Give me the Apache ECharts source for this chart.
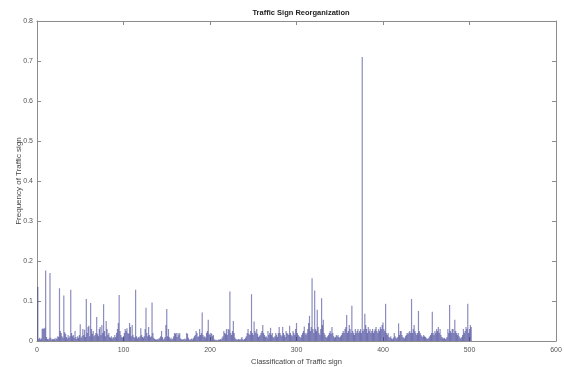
<!DOCTYPE html>
<html>
<head>
<meta charset="utf-8">
<script src="https://cdn.jsdelivr.net/npm/echarts@6/dist/echarts.min.js"></script>
<style>
html,body{margin:0;padding:0;background:#fff;}
#chart{width:564px;height:367px;}
</style>
</head>
<body>
<div id="chart"></div>
<script>
// Chart text
const titleText = "Traffic Sign Reorganization";
const xAxisName = "Classification of Traffic sign";
const yAxisName = "Frequency of Traffic sign";

// Axis ranges / ticks
const xMin = 0, xMax = 600, xStep = 100;
const yMin = 0, yMax = 0.8, yStep = 0.1;

// Class number of the first value
const firstClass = 1;

// Frequency of each traffic sign class (classes 1..502)
const frequency = [
  0.135,0.005,0.008,0.004,0.006,0.030,0.032,0.030,0.033,0.176,
  0.010,0.005,0.004,0.006,0.170,0.008,0.003,0.005,0.004,0.006,
  0.004,0.008,0.005,0.012,0.010,0.132,0.025,0.020,0.012,0.008,
  0.114,0.022,0.018,0.010,0.006,0.015,0.008,0.012,0.128,0.020,
  0.012,0.015,0.008,0.025,0.010,0.005,0.012,0.008,0.015,0.042,
  0.008,0.012,0.030,0.015,0.028,0.010,0.105,0.020,0.035,0.038,
  0.012,0.095,0.030,0.018,0.025,0.012,0.015,0.020,0.060,0.018,
  0.012,0.030,0.035,0.015,0.040,0.020,0.092,0.025,0.012,0.050,
  0.030,0.015,0.020,0.010,0.008,0.012,0.006,0.010,0.008,0.015,
  0.010,0.020,0.030,0.045,0.115,0.025,0.015,0.010,0.008,0.012,
  0.020,0.030,0.025,0.032,0.020,0.018,0.045,0.035,0.012,0.040,
  0.015,0.010,0.008,0.128,0.012,0.006,0.010,0.008,0.012,0.032,
  0.015,0.010,0.008,0.012,0.030,0.083,0.020,0.012,0.035,0.015,
  0.010,0.012,0.096,0.020,0.008,0.005,0.004,0.003,0.005,0.004,
  0.006,0.008,0.012,0.025,0.010,0.004,0.006,0.010,0.040,0.080,
  0.012,0.030,0.010,0.005,0.008,0.004,0.006,0.012,0.020,0.018,
  0.020,0.010,0.020,0.015,0.020,0.006,0.004,0.003,0.005,0.004,
  0.006,0.004,0.020,0.018,0.008,0.004,0.003,0.005,0.006,0.004,
  0.008,0.012,0.015,0.025,0.020,0.010,0.012,0.030,0.015,0.020,
  0.071,0.015,0.010,0.012,0.008,0.020,0.025,0.053,0.018,0.015,
  0.020,0.018,0.012,0.015,0.004,0.003,0.002,0.003,0.002,0.004,
  0.003,0.005,0.004,0.008,0.012,0.025,0.020,0.018,0.030,0.015,
  0.030,0.028,0.124,0.020,0.015,0.025,0.050,0.020,0.008,0.005,
  0.004,0.003,0.005,0.004,0.003,0.006,0.010,0.004,0.003,0.005,
  0.008,0.012,0.020,0.030,0.018,0.015,0.025,0.117,0.020,0.015,
  0.049,0.025,0.020,0.030,0.018,0.010,0.012,0.015,0.020,0.025,
  0.040,0.020,0.015,0.010,0.012,0.008,0.025,0.015,0.020,0.033,
  0.015,0.020,0.010,0.008,0.012,0.020,0.015,0.010,0.020,0.035,
  0.020,0.015,0.012,0.035,0.020,0.015,0.010,0.025,0.020,0.018,
  0.015,0.038,0.020,0.015,0.012,0.025,0.020,0.015,0.030,0.045,
  0.020,0.015,0.012,0.010,0.008,0.015,0.020,0.025,0.036,0.020,
  0.015,0.020,0.030,0.045,0.063,0.025,0.035,0.157,0.030,0.020,
  0.126,0.030,0.025,0.078,0.035,0.020,0.015,0.030,0.107,0.040,
  0.053,0.020,0.015,0.010,0.008,0.012,0.015,0.020,0.025,0.018,
  0.035,0.020,0.012,0.008,0.010,0.015,0.012,0.015,0.010,0.008,
  0.012,0.015,0.020,0.025,0.020,0.030,0.035,0.065,0.020,0.025,
  0.040,0.030,0.020,0.088,0.025,0.020,0.015,0.030,0.020,0.025,
  0.030,0.020,0.025,0.030,0.020,0.710,0.025,0.030,0.068,0.040,
  0.030,0.020,0.035,0.025,0.030,0.020,0.025,0.030,0.020,0.025,
  0.030,0.035,0.025,0.020,0.030,0.025,0.035,0.030,0.040,0.046,
  0.030,0.025,0.093,0.020,0.015,0.020,0.010,0.008,0.012,0.006,
  0.004,0.008,0.020,0.012,0.008,0.006,0.010,0.044,0.015,0.025,
  0.025,0.015,0.010,0.008,0.006,0.012,0.015,0.020,0.018,0.022,
  0.025,0.020,0.105,0.020,0.030,0.040,0.025,0.020,0.015,0.020,
  0.075,0.025,0.020,0.015,0.012,0.010,0.015,0.012,0.010,0.008,
  0.005,0.006,0.008,0.012,0.015,0.020,0.073,0.020,0.015,0.025,
  0.020,0.030,0.025,0.035,0.020,0.030,0.015,0.010,0.008,0.006,
  0.008,0.005,0.006,0.010,0.030,0.020,0.090,0.025,0.020,0.030,
  0.030,0.020,0.053,0.025,0.020,0.015,0.020,0.012,0.008,0.006,
  0.010,0.015,0.030,0.020,0.025,0.035,0.030,0.093,0.020,0.030,
  0.040,0.035
];

const seriesData = frequency.map((v, i) => [firstClass + i, v]);

const FONT = "'Liberation Sans', Arial, sans-serif";
const axisGray = "#8c8c8c";
const labelGray = "#555";

const chart = echarts.init(document.getElementById('chart'), null, {renderer: 'canvas'});

const tickStyle = {show: true, inside: true, length: 4, lineStyle: {color: axisGray, width: 1}};
const lineStyle = {show: true, onZero: false, lineStyle: {color: axisGray, width: 1}};

chart.setOption({
  animation: false,
  backgroundColor: '#ffffff',
  title: {
    text: titleText,
    left: 296, top: 4, textAlign: 'center',
    textStyle: {fontFamily: FONT, fontSize: 7.5, fontWeight: 'bold', color: '#222'}
  },
  grid: {left: 37, right: 8, top: 21, bottom: 26, containLabel: false, outerBoundsMode: 'none'},
  xAxis: [
    {
      type: 'value', position: 'bottom', min: xMin, max: xMax, interval: xStep,
      name: xAxisName, nameLocation: 'middle', nameGap: 17, nameMoveOverlap: false,
      nameTextStyle: {fontFamily: FONT, fontSize: 7.5, color: '#444'},
      axisLine: lineStyle,
      axisTick: tickStyle,
      axisLabel: {fontFamily: FONT, fontSize: 7, color: labelGray, margin: 6},
      splitLine: {show: false}
    },
    {
      type: 'value', position: 'top', min: xMin, max: xMax, interval: xStep,
      axisLine: lineStyle,
      axisTick: tickStyle,
      axisLabel: {show: false},
      splitLine: {show: false}
    }
  ],
  yAxis: [
    {
      type: 'value', position: 'left', min: yMin, max: yMax, interval: yStep,
      name: yAxisName, nameLocation: 'middle', nameGap: 14, nameMoveOverlap: false,
      nameTextStyle: {fontFamily: FONT, fontSize: 8, color: '#444'},
      axisLine: lineStyle,
      axisTick: tickStyle,
      axisLabel: {fontFamily: FONT, fontSize: 7, color: labelGray, margin: 4,
        formatter: v => (Math.round(v * 10) / 10).toString()},
      splitLine: {show: false}
    },
    {
      type: 'value', position: 'right', min: yMin, max: yMax, interval: yStep,
      axisLine: lineStyle,
      axisTick: tickStyle,
      axisLabel: {show: false},
      splitLine: {show: false}
    }
  ],
  series: [{
    type: 'bar',
    xAxisIndex: 0, yAxisIndex: 0,
    data: seriesData,
    barWidth: 1.2,
    itemStyle: {color: 'rgba(45,45,140,0.55)'},
    emphasis: {disabled: true},
    silent: true
  }]
});
</script>
</body>
</html>
